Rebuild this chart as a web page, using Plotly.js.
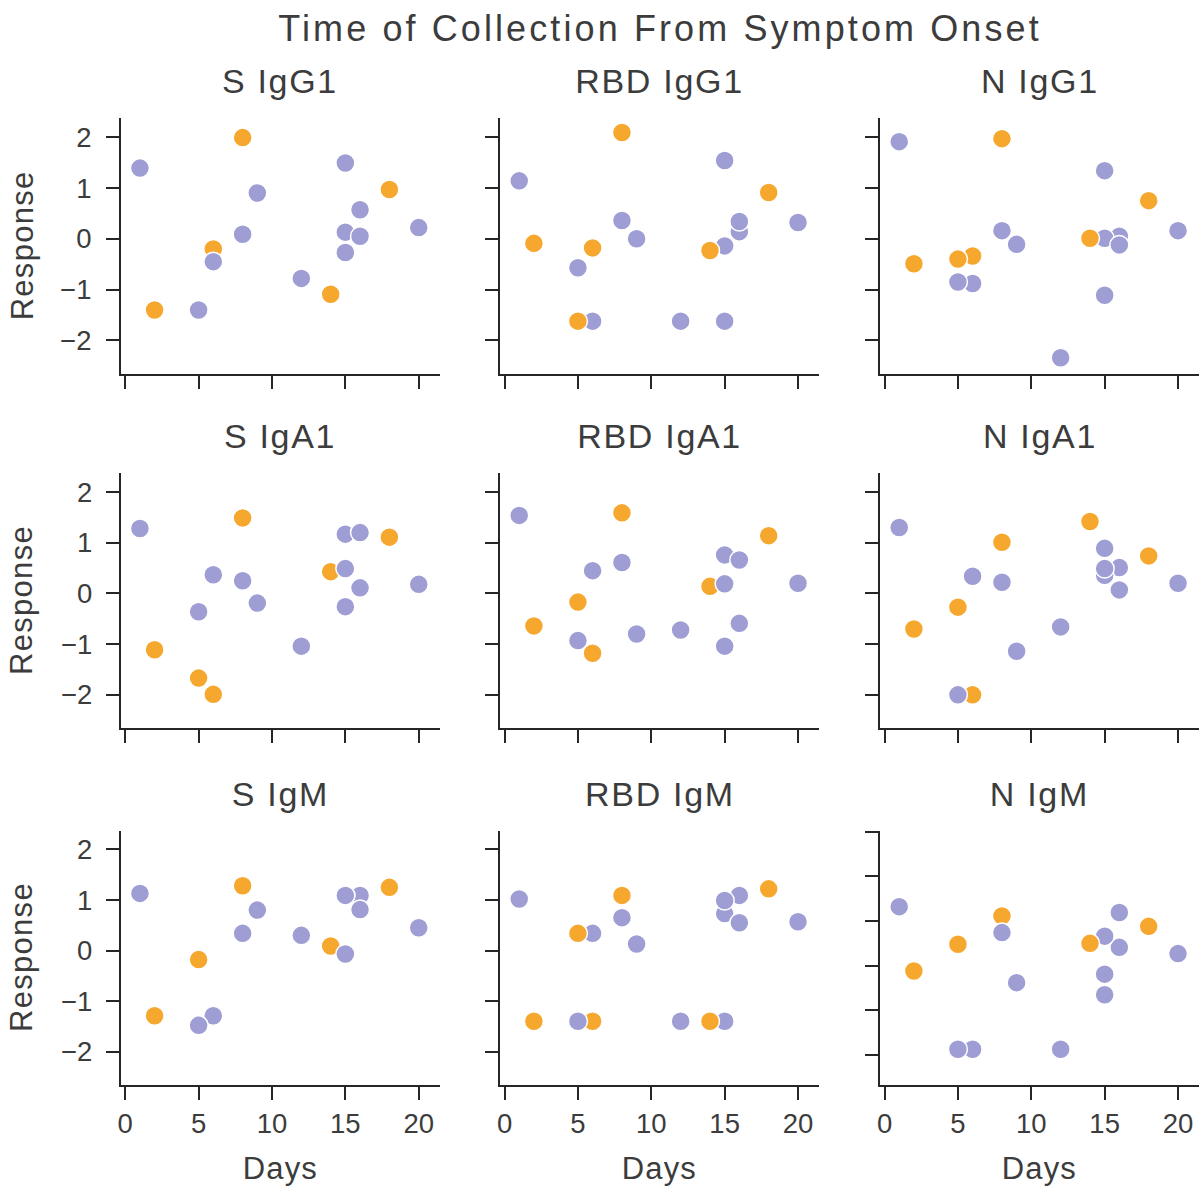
<!DOCTYPE html>
<html>
<head>
<meta charset="utf-8">
<script src="https://cdn.plot.ly/plotly-3.0.1.min.js"></script>
<style>
  html, body { margin: 0; padding: 0; background: #fff; }
  #chart { width: 1202px; height: 1190px; }
  #chart .gtitle { letter-spacing: 3.1px; }
  #chart .xtick text, #chart .ytick text { letter-spacing: 0.6px; }
</style>
</head>
<body>
<div id="chart"></div>
<script>
// ---- Data (patients in drawing order) ----
const days  = [1, 2, 6, 6, 5, 5, 8, 8, 9, 12, 16, 15, 14, 15, 15, 16, 18, 20];
const group = ['B','A','A','B','A','B','A','B','B','B','B','B','A','B','B','B','A','B'];

const panelTitles = ['S IgG1','RBD IgG1','N IgG1','S IgA1','RBD IgA1','N IgA1','S IgM','RBD IgM','N IgM'];

const S_IgG1   = [1.39,-1.40,-0.20,-0.45,-1.40,-1.40, 1.99, 0.09, 0.90,-0.78, 0.57, 1.49,-1.09, 0.13,-0.27, 0.05, 0.97, 0.22];
const RBD_IgG1 = [1.14,-0.09,-0.18,-1.62,-1.62,-0.57, 2.09, 0.36, 0.00,-1.62, 0.14,-0.14,-0.23, 1.54,-1.62, 0.34, 0.91, 0.32];
const N_IgG1   = [1.91,-0.49,-0.34,-0.88,-0.40,-0.85, 1.97, 0.16,-0.11,-2.34, 0.05, 0.01, 0.01, 1.34,-1.11,-0.12, 0.75, 0.16];
const S_IgA1   = [1.28,-1.11,-1.99, 0.37,-1.67,-0.36, 1.49, 0.25,-0.19,-1.04, 0.11,-0.26, 0.43, 0.49, 1.17, 1.20, 1.11, 0.18];
const RBD_IgA1 = [1.54,-0.64,-1.18, 0.45,-0.17,-0.93, 1.59, 0.61,-0.80,-0.72,-0.59,-1.04, 0.14, 0.19, 0.76, 0.66, 1.14, 0.20];
const N_IgA1   = [1.30,-0.70,-2.00, 0.34,-0.27,-2.00, 1.01, 0.22,-1.14,-0.66, 0.51, 0.36, 1.42, 0.89, 0.49, 0.07, 0.74, 0.20];
const S_IgM    = [1.13,-1.29,-1.29,-1.29,-0.18,-1.48, 1.28, 0.34, 0.80, 0.30, 1.09, 1.09, 0.09,-0.07, 1.09, 0.81, 1.25, 0.45];
const RBD_IgM  = [1.02,-1.40,-1.40, 0.34, 0.34,-1.40, 1.09, 0.65, 0.13,-1.40, 1.09,-1.40,-1.40, 0.73, 0.99, 0.55, 1.22, 0.57];
const N_IgM    = [1.32,-0.12,-1.87,-1.87, 0.48,-1.87, 1.11, 0.74,-0.38,-1.87, 0.41, 0.66, 0.50,-0.19,-0.65, 1.19, 0.88, 0.27];

const panelValues = [S_IgG1, RBD_IgG1, N_IgG1, S_IgA1, RBD_IgA1, N_IgA1, S_IgM, RBD_IgM, N_IgM];

const xTicks = [0, 5, 10, 15, 20];
const yTicks = [-2, -1, 0, 1, 2];
const yTicksNIgM = [-2, -1, 0, 1, 2, 3];

// ---- Styling / layout ----
const W = 1202, H = 1190;
const FONT = 'Liberation Sans, Arial, Helvetica, sans-serif';
const TXT = '#3c3c3c';
const AX = '#262626';
const groupColor = { A: 'rgb(246,167,46)', B: 'rgb(158,157,212)' };

const colPx = [[120.7, 440], [500, 819.3], [880, 1199.3]];
const rowPx = [[118.3, 374], [473.3, 728.3], [830.7, 1085]];

const data = [];
const layout = {
  width: W, height: H,
  margin: { l: 0, r: 0, t: 0, b: 0, pad: 0 },
  paper_bgcolor: '#fff', plot_bgcolor: '#fff',
  showlegend: false,
  font: { family: FONT, color: TXT, size: 28 },
  title: {
    text: 'Time of Collection From Symptom Onset',
    x: 660 / W, xanchor: 'center',
    y: 1 - 28 / H, yanchor: 'middle',
    xref: 'container', yref: 'container',
    font: { family: FONT, size: 36, color: TXT }
  },
  annotations: []
};

const annoSpacing = []; // letter-spacing per annotation (px)

for (let i = 0; i < 9; i++) {
  const r = Math.floor(i / 3), c = i % 3;
  const k = i === 0 ? '' : String(i + 1);
  const isNIgM = (i === 8);
  data.push({
    type: 'scatter', mode: 'markers',
    x: days, y: panelValues[i],
    xaxis: 'x' + k, yaxis: 'y' + k,
    marker: {
      size: 19,
      color: group.map(g => groupColor[g]),
      line: { color: '#ffffff', width: 1.5 }
    },
    hoverinfo: 'x+y'
  });
  const common = {
    showline: true, linecolor: AX, linewidth: 2,
    ticks: 'outside', ticklen: 13, tickwidth: 2, tickcolor: AX,
    showgrid: false, zeroline: false, mirror: false,
    tickfont: { family: FONT, size: 27.5, color: TXT }
  };
  layout['xaxis' + k] = Object.assign({}, common, {
    domain: [colPx[c][0] / W, colPx[c][1] / W],
    range: [-0.31, 21.45],
    tickmode: 'array', tickvals: xTicks,
    showticklabels: r === 2,
    anchor: 'y' + k
  });
  layout['yaxis' + k] = Object.assign({}, common, {
    domain: [1 - rowPx[r][1] / H, 1 - rowPx[r][0] / H],
    range: isNIgM ? [-2.67, 3.02] : [-2.66, 2.37],
    tickmode: 'array', tickvals: isNIgM ? yTicksNIgM : yTicks,
    showticklabels: c === 0,
    ticklabelstandoff: 8,
    anchor: 'x' + k
  });
  // subplot title
  layout.annotations.push({
    text: panelTitles[i], showarrow: false,
    xref: 'paper', yref: 'paper',
    x: ((colPx[c][0] + colPx[c][1]) / 2 + 0) / W, xanchor: 'center',
    y: 1 - (rowPx[r][0] - 37) / H, yanchor: 'middle',
    font: { family: FONT, size: 34, color: TXT }
  });
  annoSpacing.push(1.7);
  if (c === 0) {
    layout.annotations.push({
      text: 'Response', showarrow: false, textangle: -90,
      xref: 'paper', yref: 'paper',
      x: 22 / W, xanchor: 'center',
      y: 1 - ((rowPx[r][0] + rowPx[r][1]) / 2 - 1) / H, yanchor: 'middle',
      font: { family: FONT, size: 31, color: TXT }
    });
    annoSpacing.push(1.3);
  }
  if (r === 2) {
    layout.annotations.push({
      text: 'Days', showarrow: false,
      xref: 'paper', yref: 'paper',
      x: ((colPx[c][0] + colPx[c][1]) / 2 + 0) / W, xanchor: 'center',
      y: 1 - 1168 / H, yanchor: 'middle',
      font: { family: FONT, size: 31, color: TXT }
    });
    annoSpacing.push(1.1);
  }
}

Plotly.newPlot('chart', data, layout, { displayModeBar: false, staticPlot: true }).then(function (gd) {
  gd.querySelectorAll('g.annotation').forEach(function (g) {
    const idx = +g.getAttribute('data-index');
    const t = g.querySelector('text.annotation-text');
    if (t && annoSpacing[idx] !== undefined) t.style.letterSpacing = annoSpacing[idx] + 'px';
  });
});
</script>
</body>
</html>
